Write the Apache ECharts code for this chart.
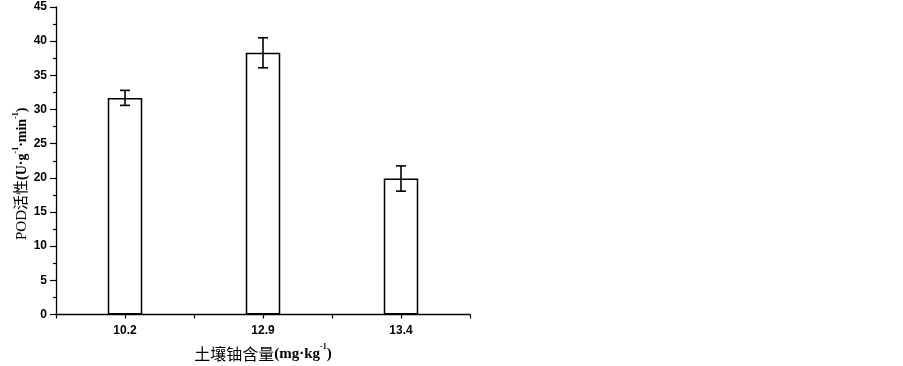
<!DOCTYPE html>
<html><head><meta charset="utf-8">
<script src="https://cdn.jsdelivr.net/npm/echarts@6/dist/echarts.min.js"></script>
<style>html,body{margin:0;padding:0;background:#fff}#c{width:903px;height:366px}</style>
</head><body><div id="c"></div>
<script>
var categories = ['10.2', '12.9', '13.4'];
var means = [31.7, 38.3, 19.9];
var errors = [1.1, 2.2, 1.85];
var yTicks = [0, 5, 10, 15, 20, 25, 30, 35, 40, 45];

var chart = echarts.init(document.getElementById('c'));
var serif = '"Liberation Serif","Times New Roman","Noto Sans CJK SC",serif';
var cjk = '"Noto Sans CJK SC",serif';
var lbl = {fontFamily:'"Liberation Sans",Arial,sans-serif', fontWeight:'bold', fontSize:12, color:'#000'};
var axLine = {lineStyle:{color:'#000', width:1.3}};
chart.setOption({
  animation:false,
  grid:{left:56, right:433, top:7, bottom:51.5, containLabel:false, outerBoundsMode:'none'},
  xAxis:[{
    type:'category', data:categories, boundaryGap:true,
    axisLine:axLine,
    axisTick:{show:true, alignWithLabel:true, inside:false, length:4, lineStyle:{color:'#000', width:1.2}},
    axisLabel:Object.assign({margin:10}, lbl),
    name:'{a|土壤铀含量}{b|(mg·kg}{s|-1}{b|)}',
    nameLocation:'middle', nameGap:28,
    nameTextStyle:{rich:{
      a:{fontFamily:cjk, fontSize:16, color:'#000', verticalAlign:'bottom', lineHeight:19},
      b:{fontFamily:serif, fontWeight:'bold', fontSize:15, color:'#000', verticalAlign:'bottom', lineHeight:19},
      s:{fontFamily:serif, fontWeight:'bold', fontSize:8, color:'#000', verticalAlign:'top', lineHeight:19}
    }}
  },{
    type:'category', data:categories, boundaryGap:true, position:'bottom',
    axisLine:{show:false},
    axisTick:{show:true, interval:0, length:4, lineStyle:{color:'#000', width:1.2}},
    axisLabel:{show:false}
  }],
  yAxis:{
    type:'value', min:0, max:45, interval:5,
    axisLine:{show:true, lineStyle:{color:'#000', width:1.3}},
    axisTick:{show:true, length:6, lineStyle:{color:'#000', width:1.2}},
    minorTick:{show:true, splitNumber:2, length:3, lineStyle:{color:'#000', width:1.2}},
    splitLine:{show:false},
    axisLabel:Object.assign({margin:9, formatter:function(v){return yTicks.indexOf(v)>=0?String(v):'';}}, lbl),
    name:'{a|POD活性}{b|(U·g}{s|-1}{b|·min}{s|-1}{b|)}',
    nameLocation:'middle', nameGap:25, nameRotate:90,
    nameTextStyle:{padding:[0, 26, 0, 0], rich:{
      a:{fontFamily:serif, fontSize:15, color:'#000', verticalAlign:'bottom', lineHeight:18},
      b:{fontFamily:serif, fontWeight:'bold', fontSize:14, color:'#000', verticalAlign:'bottom', lineHeight:18},
      s:{fontFamily:serif, fontWeight:'bold', fontSize:8, color:'#000', verticalAlign:'top', lineHeight:18}
    }}
  },
  series:[{
    type:'bar', data:means, barWidth:'25%',
    itemStyle:{color:'#fff', borderColor:'#000', borderWidth:1.5}
  },{
    type:'custom',
    data:means.map(function(m,i){return [i, m-errors[i], m+errors[i]];}),
    renderItem:function(params, api){
      var lo = api.coord([api.value(0), api.value(1)]);
      var hi = api.coord([api.value(0), api.value(2)]);
      var hw = 5;
      var st = {stroke:'#000', lineWidth:1.6};
      return {type:'group', children:[
        {type:'line', shape:{x1:lo[0], y1:lo[1], x2:hi[0], y2:hi[1]}, style:st},
        {type:'line', shape:{x1:hi[0]-hw, y1:hi[1], x2:hi[0]+hw, y2:hi[1]}, style:st},
        {type:'line', shape:{x1:lo[0]-hw, y1:lo[1], x2:lo[0]+hw, y2:lo[1]}, style:st}
      ]};
    },
    z:5
  }]
});
</script></body></html>
